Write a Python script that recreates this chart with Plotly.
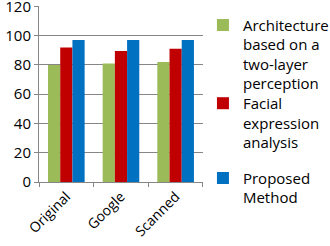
import plotly.graph_objects as go

categories = ["Original", "Google", "Scanned"]
series_names = ["Architecture<br>based on a<br>two-layer<br>perception",
                "Facial<br>expression<br>analysis",
                "Proposed<br>Method"]
arch_vals = [80, 81, 82]
facial_vals = [92, 89.5, 91]
proposed_vals = [97, 97, 97]
colors = ["#9BBB59", "#C00000", "#0070C0"]
legend_ids = ["legend", "legend2", "legend3"]
legend_tops = [0.985, 0.54, 0.115]

fig = go.Figure()
for name, vals, c, lg in zip(series_names, [arch_vals, facial_vals, proposed_vals], colors, legend_ids):
    fig.add_trace(go.Bar(x=categories, y=vals, name=name, marker_color=c,
                         marker_line_width=0, legend=lg))

leg_common = dict(xanchor="left", yanchor="top", valign="top",
                  font=dict(size=15, family="Open Sans", color="black"),
                  bgcolor="rgba(0,0,0,0)", borderwidth=0, xref="container")
layout_legends = {}
for lg, top in zip(legend_ids, legend_tops):
    layout_legends[lg] = dict(x=0.615, y=top, **leg_common)

fig.update_layout(
    width=330, height=246,
    margin=dict(l=39, r=123, t=6, b=64),
    paper_bgcolor="white", plot_bgcolor="white",
    barmode="group", bargap=0.33, bargroupgap=0,
    font=dict(family="Open Sans", size=14, color="black"),
    showlegend=True,
    xaxis=dict(showline=True, linecolor="#868686", ticks="outside",
               tickson="boundaries",
               tickcolor="#868686", ticklen=4, tickangle=-45,
               tickfont=dict(size=14), showgrid=False, automargin=False),
    yaxis=dict(range=[0, 120.3], dtick=20, showline=True, linecolor="#868686",
               ticks="outside", tickcolor="#868686", ticklen=4,
               gridcolor="#868686", gridwidth=1, tickfont=dict(size=15),
               zeroline=False, automargin=False, ticklabeloverflow="allow"),
    **layout_legends,
)
fig.write_html("out.html", config={"displayModeBar": False},
               post_script="document.body.style.margin='0';")
